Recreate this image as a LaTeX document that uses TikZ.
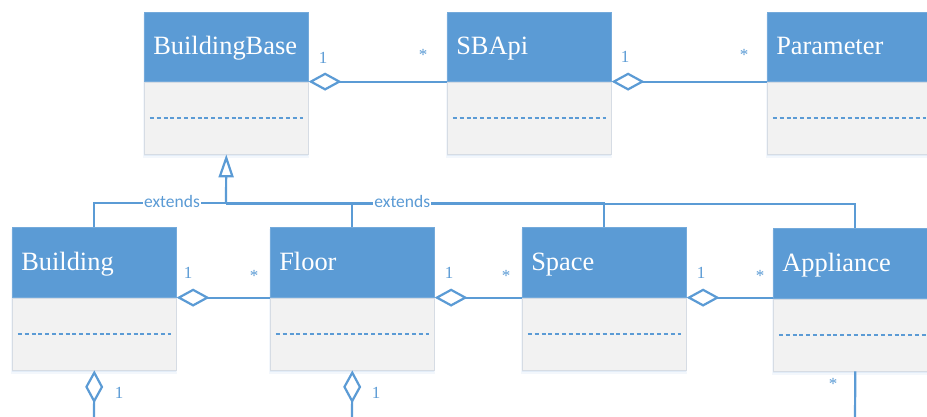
\documentclass[tikz,border=0pt]{standalone}
\usepackage{fontspec}
\setmainfont{Liberation Serif}
\newfontfamily\classserif{Liberation Serif}
\newfontfamily\labelsans{Carlito}
\usetikzlibrary{arrows.meta}

\definecolor{umlblue}{HTML}{5B9BD5}
\definecolor{umlbody}{HTML}{F2F2F2}
\definecolor{umledge}{HTML}{D6DCE4}

\tikzset{
  classhead/.style={anchor=north west, rectangle, fill=umlblue,
    draw=umlblue!85!white, line width=0.6pt,
    minimum width=164pt, minimum height=#1,
    text width=146pt, inner xsep=9pt, inner ysep=0pt, align=left,
    text=white, font=\classserif\fontsize{26.4}{28}\selectfont,
    text height=20pt, text depth=4pt},
  classbody/.style={anchor=north, rectangle, fill=umlbody, draw=umledge,
    line width=0.8pt, minimum width=164pt, minimum height=#1, inner sep=0pt},
  dashsep/.style={draw=umlblue, line width=1.6pt, dash pattern=on 4pt off 2.8pt},
  conn/.style={draw=umlblue, line width=2.2pt},
  agg/.style={conn, {Diamond[open, length=33pt, width=18pt]}-},
  gen/.style={conn, -{Triangle[open, length=23pt, width=15pt]}},
  mult/.style={text=umlblue, font=\classserif\fontsize{17}{18}\selectfont, inner sep=0pt},
  extlabel/.style={fill=white, inner xsep=1pt, inner ysep=0pt, text=umlblue,
    font=\labelsans\fontsize{17.5}{18}\selectfont,
    text height=12.5pt, text depth=4.3pt},
}

% class box: name, x, y (top left), header height, body height, title
\newcommand\umlclass[6]{%
  \fill[umlblue, opacity=0.07] (#2-1,#3+2) rectangle (#2+165,#3+#4+#5+5);
  \fill[umlblue, opacity=0.10] (#2,#3+2) rectangle (#2+164,#3+#4+#5+3);
  \node[classhead=#4pt] (#1) at (#2,#3) {#6};
  \node[classbody=#5pt] (#1-b) at (#1.south) {};
  \draw[dashsep] ([xshift=6pt]#1-b.west) -- ([xshift=-6pt]#1-b.east);
}

\begin{document}
\begin{tikzpicture}[x=1pt, y=-1pt]
  \useasboundingbox (0,0) rectangle (927,416);
  \fill[white] (0,0) rectangle (927,416);
  \clip (0,0) rectangle (927,416);

  % classes
  \umlclass{bb}{144}{12}{69}{72}{BuildingBase}
  \umlclass{sb}{447}{12}{69}{72}{SBApi}
  \umlclass{pm}{767}{12}{69}{72}{Parameter}
  \umlclass{bd}{12}{227}{70}{72}{Building}
  \umlclass{fl}{270}{227}{70}{72}{Floor}
  \umlclass{sp}{522}{227}{70}{72}{Space}
  \umlclass{ap}{773}{228}{70}{72}{Appliance}

  % inheritance
  \coordinate (jn) at (226,203);
  \coordinate (jn2) at (226,204);
  \draw[conn] (ap.north) |- (jn2);
  \draw[conn] (sp.north) |- node[extlabel, pos=0.767] (ext2) {extends} (jn);
  \draw[conn] (fl.north) |- (jn);
  \draw[conn] (bd.north) |- node[extlabel, pos=0.795] (ext1) {extends} (jn);
  \draw[gen] (jn) -- (bb-b.south);

  % aggregations
  \draw[agg] (bb.south east) -- (sb.south west);
  \draw[agg] (sb.south east) -- (pm.south west);
  \draw[agg] (bd.south east) -- (fl.south west);
  \draw[agg] (fl.south east) -- (sp.south west);
  \draw[agg] (sp.south east) -- (sp.south east -| ap.west);

  \coordinate (bd-down) at (94,420);
  \coordinate (fl-down) at (352,420);
  \coordinate (ap-down) at (855,420);
  \draw[agg] (bd-b.south) -- (bd-down);
  \draw[agg] (fl-b.south) -- (fl-down);
  \draw[conn] (ap-b.south) -- (ap-down);

  % multiplicities
  \node[mult] (m1) at (323,58) {1};
  \node[mult] (m2) at (423,55) {*};
  \node[mult] (m3) at (625,57) {1};
  \node[mult] (m4) at (744,55) {*};
  \node[mult] (m5) at (188,273) {1};
  \node[mult] (m6) at (254,276) {*};
  \node[mult] (m7) at (449,273) {1};
  \node[mult] (m8) at (506,276) {*};
  \node[mult] (m9) at (701,273) {1};
  \node[mult] (m10) at (760,276) {*};
  \node[mult] (m11) at (119,393) {1};
  \node[mult] (m12) at (376,393) {1};
  \node[mult] (m13) at (833,384) {*};
\end{tikzpicture}
\end{document}
